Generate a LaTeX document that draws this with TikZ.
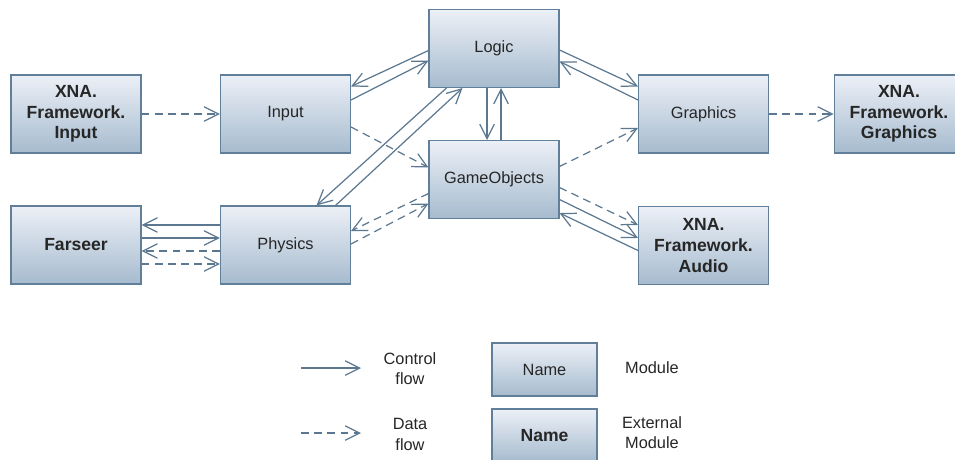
\documentclass[tikz,border=0pt]{standalone}
\usepackage{fontspec}
\setmainfont{Liberation Sans}
\usetikzlibrary{arrows.meta, positioning, calc}
\usepackage{xcolor}
\definecolor{flowline}{HTML}{5C7891}
\definecolor{boxtop}{HTML}{ECF0F7}
\definecolor{boxbottom}{HTML}{A6BBCE}
\definecolor{boxedge}{HTML}{627F99}

\begin{document}
\begin{tikzpicture}[x=0.02cm, y=-0.02cm,
    module/.style={draw=boxedge, line width=0.6pt, top color=boxtop, bottom color=boxbottom,
      minimum width=2.6cm, minimum height=1.56cm, align=center, text=black!85,
      font=\fontsize{9.3}{11.7}\selectfont},
    extmodule/.style={module, font=\fontsize{10}{11.7}\selectfont\bfseries},
    control/.style={draw=flowline, line width=0.7pt, -{Straight Barb[length=0.29cm,width=0.29cm]}},
    data/.style={control, dash pattern=on 4.5pt off 3pt},
    legendtxt/.style={align=center, text=black!85, font=\fontsize{9.3}{11.7}\selectfont}]
        \useasboundingbox (0,0) rectangle (955,459);
        % modules
        \node[extmodule] (xin) at (76,114) {XNA.\\Framework.\\Input};
        \node[module] (input) at (285.5,114) {Input};
        \node[module] (logic) at (494,48.5) {Logic};
        \node[module] (gobj) at (494,179.5) {GameObjects};
        \node[module] (graphics) at (703.5,114) {Graphics};
        \node[extmodule] (xgfx) at (899,114) {XNA.\\Framework.\\Graphics};
        \node[extmodule] (farseer) at (76,245) {Farseer};
        \node[module] (physics) at (285.5,245) {Physics};
        \node[extmodule] (audio) at (703.5,245.5) {XNA.\\Framework.\\Audio};
        % input
        \draw[data] (xin) -- (input);
        \draw[control] ($(logic.west)+(0,2)$) -- ($(input.north east)+(0,12)$);
        \draw[control] ($(input.east)+(0,-14)$) -- ($(logic.west)+(0,12)$);
        \draw[data] ($(input.east)+(0,13)$) -- ($(gobj.west)+(0,-12)$);
        % logic
        \draw[control] ($(logic.south west)+(18,0)$) -- ($(physics.north)+(31,0)$);
        \draw[control] ($(physics.north)+(50,0)$) -- ($(logic.south west)+(34,0)$);
        \draw[control] ($(logic.south)+(-7,0)$) -- ($(gobj.north)+(-7,0)$);
        \draw[control] ($(gobj.north)+(7,0)$) -- ($(logic.south)+(7,0)$);
        \draw[control] ($(logic.east)+(0,1.5)$) -- ($(graphics.north west)+(0,12)$);
        \draw[control] ($(graphics.west)+(0,-14)$) -- ($(logic.east)+(0,13)$);
        % graphics and audio
        \draw[data] ($(gobj.east)+(0,-13)$) -- ($(graphics.west)+(0,14)$);
        \draw[data] (graphics) -- (xgfx);
        \draw[data] ($(gobj.east)+(0,8)$) -- ($(audio.north west)+(0,19)$);
        \draw[control] ($(gobj.east)+(0,20)$) -- ($(audio.north west)+(0,32)$);
        \draw[control] ($(audio.west)+(0,5)$) -- ($(gobj.south east)+(0,-6)$);
        % physics
        \draw[data] ($(gobj.west)+(0,14)$) -- ($(physics.east)+(0,-14)$);
        \draw[data] ($(physics.east)+(0,-1)$) -- ($(gobj.west)+(0,24)$);
        \draw[control] ($(physics.west)+(0,-20)$) -- ($(farseer.east)+(0,-20)$);
        \draw[control] ($(farseer.east)+(0,-7)$) -- ($(physics.west)+(0,-7)$);
        \draw[data] ($(physics.west)+(0,6)$) -- ($(farseer.east)+(0,6)$);
        \draw[data] ($(farseer.east)+(0,19)$) -- ($(physics.west)+(0,19)$);
        % legend
        \coordinate (ctrlfrom) at (301,368);
        \coordinate (ctrlto) at (361,368);
        \draw[control] (ctrlfrom) -- (ctrlto);
        \node[legendtxt] (ctrltxt) at (410,368.5) {Control\\flow};
        \coordinate (datafrom) at (301,433);
        \coordinate (datato) at (361,433);
        \draw[data] (datafrom) -- (datato);
        \node[legendtxt] (datatxt) at (410,434.5) {Data\\flow};
        \node[module, minimum width=2.1cm, minimum height=1.06cm] (modkey) at (544.5,369.5) {Name};
        \node[legendtxt] (modtxt) at (652,368) {Module};
        \node[extmodule, minimum width=2.1cm, minimum height=1.06cm] (extkey) at (544.5,435.5) {Name};
        \node[legendtxt] (exttxt) at (652,432.5) {External\\Module};
      \end{tikzpicture}
\end{document}
